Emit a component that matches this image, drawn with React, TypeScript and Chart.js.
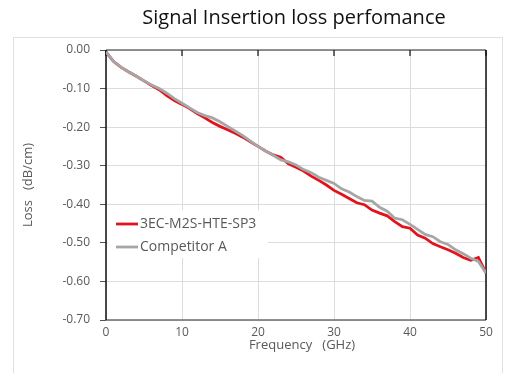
import React, { useEffect, useRef } from "react";
import { Chart, registerables } from "chart.js";

Chart.register(...registerables);

const chartTitle = "Signal Insertion loss perfomance";
const xTitle = "Frequency   (GHz)";
const yTitle = "Loss   (dB/cm)";

const freqGHz = [
  0, 1, 2, 3, 4, 5, 6, 7, 8, 9, 10, 11, 12, 13, 14, 15, 16, 17, 18, 19, 20,
  21, 22, 23, 24, 25, 26, 27, 28, 29, 30, 31, 32, 33, 34, 35, 36, 37, 38, 39,
  40, 41, 42, 43, 44, 45, 46, 47, 48, 49, 50,
];

const series3EC = [
  -0.005, -0.03, -0.045, -0.057, -0.068, -0.08, -0.092, -0.103, -0.118, -0.131,
  -0.141, -0.152, -0.165, -0.176, -0.188, -0.198, -0.207, -0.216, -0.226, -0.238,
  -0.25, -0.262, -0.272, -0.278, -0.295, -0.304, -0.314, -0.327, -0.338, -0.35,
  -0.364, -0.374, -0.385, -0.396, -0.401, -0.415, -0.423, -0.43, -0.445, -0.458,
  -0.462, -0.48, -0.488, -0.502, -0.51, -0.518, -0.527, -0.538, -0.545, -0.538,
  -0.578,
];

const seriesCompetitorA = [
  -0.005, -0.03, -0.045, -0.057, -0.068, -0.08, -0.091, -0.1, -0.112, -0.126,
  -0.138, -0.15, -0.162, -0.17, -0.176, -0.186, -0.198, -0.21, -0.222, -0.236,
  -0.25, -0.262, -0.273, -0.285, -0.29, -0.298, -0.31, -0.318, -0.33, -0.338,
  -0.346, -0.36, -0.368, -0.38, -0.39, -0.392, -0.408, -0.418, -0.436, -0.44,
  -0.452, -0.465, -0.478, -0.484, -0.497, -0.504, -0.518, -0.528, -0.54, -0.548,
  -0.578,
];

const xTicks = [0, 10, 20, 30, 40, 50];
const yTicks = [0, -0.1, -0.2, -0.3, -0.4, -0.5, -0.6, -0.7];

const RED = "#e3121b";
const GRAY = "#a6a6a6";
const FONT = "'Open Sans', 'Noto Sans', sans-serif";

const decorPlugin = {
  id: "decor",
  beforeDatasetsDraw(chart: any) {
    const { ctx, chartArea: a, scales } = chart;
    ctx.save();
    ctx.lineWidth = 1.5;
    ctx.strokeStyle = "#6e6e6e";
    ctx.beginPath();
    ctx.moveTo(a.left, a.top);
    ctx.lineTo(a.right, a.top);
    ctx.moveTo(a.left, a.bottom);
    ctx.lineTo(a.right, a.bottom);
    ctx.stroke();
    ctx.strokeStyle = "#111";
    ctx.beginPath();
    ctx.moveTo(a.left, a.top);
    ctx.lineTo(a.left, a.bottom);
    ctx.moveTo(a.right, a.top);
    ctx.lineTo(a.right, a.bottom);
    ctx.stroke();
    ctx.lineWidth = 1.2;
    ctx.beginPath();
    for (const t of xTicks) {
      const px = scales.x.getPixelForValue(t);
      ctx.moveTo(px, a.top);
      ctx.lineTo(px, a.top + 6);
    }
    ctx.stroke();
    ctx.restore();
  },
  afterDraw(chart: any) {
    const { ctx, chartArea: a } = chart;
    ctx.save();
    ctx.strokeStyle = "#e0e0e0";
    ctx.lineWidth = 1;
    ctx.strokeRect(13.5, 37.5, 489, 400);
    ctx.fillStyle = "#111";
    ctx.font = `20px ${FONT}`;
    ctx.textAlign = "center";
    ctx.textBaseline = "middle";
    ctx.fillText(chartTitle, 294, 18);
    ctx.fillStyle = "#595959";
    ctx.font = `13px ${FONT}`;
    ctx.fillText(xTitle, 302, 345);
    ctx.save();
    ctx.translate(28, (a.top + a.bottom) / 2);
    ctx.rotate(-Math.PI / 2);
    ctx.fillText(yTitle, 0, 0);
    ctx.restore();
    const items = [
      { label: chart.data.datasets[1].label, color: RED },
      { label: chart.data.datasets[0].label, color: GRAY },
    ];
    ctx.fillStyle = "#fff";
    ctx.fillRect(a.left + 2, 210, 160, 48);
    ctx.textAlign = "left";
    ctx.font = `14px ${FONT}`;
    items.forEach((it, i) => {
      const y = 224 + i * 23;
      ctx.strokeStyle = it.color;
      ctx.lineWidth = 2.8;
      ctx.beginPath();
      ctx.moveTo(116, y);
      ctx.lineTo(138, y);
      ctx.stroke();
      ctx.fillStyle = "#595959";
      ctx.fillText(it.label, 140, y);
    });
    ctx.restore();
  },
};

export default function App() {
  const ref = useRef<HTMLCanvasElement>(null);
  useEffect(() => {
    if (!ref.current) return;
    const chart = new Chart(ref.current, {
      type: "line",
      data: {
        datasets: [
          {
            label: "Competitor A",
            data: freqGHz.map((f, i) => ({ x: f, y: seriesCompetitorA[i] })),
            borderColor: GRAY,
            backgroundColor: GRAY,
            borderWidth: 2.8,
            pointRadius: 0,
            tension: 0,
          },
          {
            label: "3EC-M2S-HTE-SP3",
            data: freqGHz.map((f, i) => ({ x: f, y: series3EC[i] })),
            borderColor: RED,
            backgroundColor: RED,
            borderWidth: 2.8,
            pointRadius: 0,
            tension: 0,
          },
        ],
      },
      options: {
        responsive: false,
        animation: false,
        devicePixelRatio: 1,
        layout: { padding: { top: 50, right: 24, left: 0, bottom: 0 } },
        plugins: {
          legend: { display: false },
          title: { display: false },
          tooltip: { enabled: false },
        },
        scales: {
          x: {
            type: "linear",
            min: 0,
            max: 50,
            afterBuildTicks: (s: any) => {
              s.ticks = xTicks.map((v) => ({ value: v }));
            },
            afterFit: (s: any) => {
              s.height = 53;
            },
            ticks: {
              color: "#595959",
              font: { family: FONT, size: 12 },
              padding: 5,
              maxRotation: 0,
              callback: (v: any) => String(v),
            },
            grid: { color: "#dcdcdc", drawTicks: false, lineWidth: 1 },
            border: { display: false },
          },
          y: {
            type: "linear",
            min: -0.7,
            max: 0,
            afterBuildTicks: (s: any) => {
              s.ticks = yTicks.map((v) => ({ value: v }));
            },
            afterFit: (s: any) => {
              s.width = 106;
            },
            ticks: {
              color: "#595959",
              font: { family: FONT, size: 12 },
              padding: 10,
              callback: (v: any) => Number(v).toFixed(2),
            },
            grid: {
              color: "#dcdcdc",
              tickColor: "#555",
              tickLength: 6,
              drawTicks: true,
              lineWidth: 1,
            },
            border: { display: false },
          },
        },
      },
      plugins: [decorPlugin],
    });
    return () => chart.destroy();
  }, []);
  return (
    <div style={{ position: "fixed", left: 0, top: 0, width: 510, height: 373, background: "#fff" }}>
      <canvas ref={ref} width={510} height={373} />
    </div>
  );
}
